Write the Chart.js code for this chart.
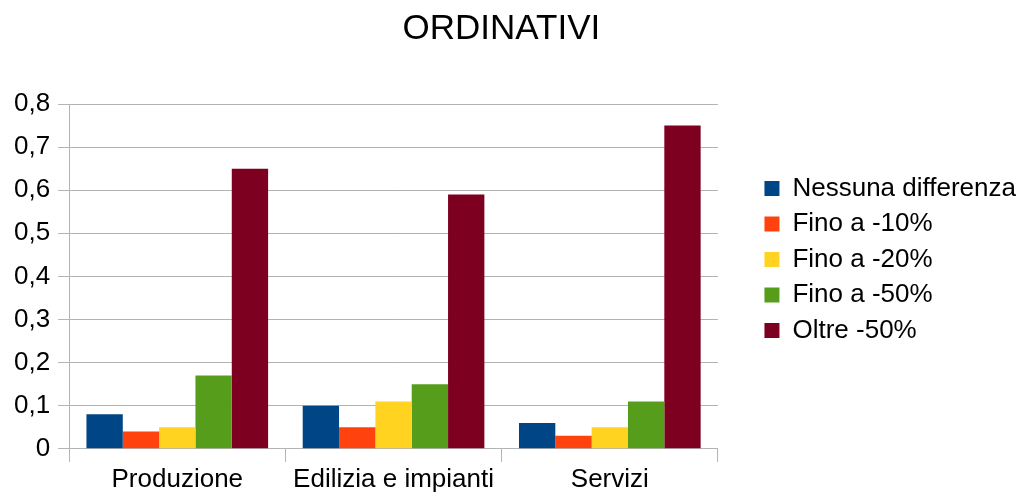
<!DOCTYPE html>
<html lang="it">
<head>
  <meta charset="UTF-8" />
  <title>Ordinativi</title>
  <script src="https://cdn.jsdelivr.net/npm/chart.js"></script>
  <style>
    html, body { margin: 0; padding: 0; background: #fff; }
    #wrap { width: 1026px; height: 492px; }
  </style>
</head>
<body>
  <div id="wrap"><canvas id="chart" width="1026" height="492"></canvas></div>

  <script>
// === Data ===
const categories = ["Produzione", "Edilizia e impianti", "Servizi"];
const seriesNames = ["Nessuna differenza", "Fino a -10%", "Fino a -20%", "Fino a -50%", "Oltre -50%"];
const nessunaDifferenza = [0.08, 0.10, 0.06];
const finoA10 = [0.04, 0.05, 0.03];
const finoA20 = [0.05, 0.11, 0.05];
const finoA50 = [0.17, 0.15, 0.11];
const oltre50 = [0.65, 0.59, 0.75];
const yTickLabels = ["0", "0,1", "0,2", "0,3", "0,4", "0,5", "0,6", "0,7", "0,8"];

const colors = ["#004586", "#ff420e", "#ffd320", "#579d1c", "#7e0021"];
const seriesValues = [nessunaDifferenza, finoA10, finoA20, finoA50, oltre50];

Chart.defaults.font.family = "'Liberation Sans', Arial, sans-serif";
Chart.defaults.color = "#000";

new Chart(document.getElementById("chart").getContext("2d"), {
  type: "bar",
  data: {
    labels: categories,
    datasets: seriesNames.map((name, i) => ({
      label: name,
      data: seriesValues[i],
      backgroundColor: colors[i],
      borderWidth: 0,
      categoryPercentage: 0.84,
      barPercentage: 1
    }))
  },
  options: {
    responsive: false,
    animation: false,
    layout: { padding: { left: 6, right: 0, top: 0, bottom: -5 } },
    plugins: {
      title: {
        display: true,
        // trailing spaces nudge the centred title a little to the left
        text: "ORDINATIVI   ",
        font: { size: 35, weight: "normal" },
        color: "#000",
        padding: { top: 8, bottom: 54 }
      },
      legend: {
        position: "right",
        maxWidth: 320,
        // blank title only pushes the items down a bit
        title: { display: true, text: " ", font: { size: 10 }, padding: 5 },
        labels: {
          boxWidth: 15,
          boxHeight: 15,
          padding: 9.5,
          font: { size: 26 },
          color: "#000"
        }
      },
      tooltip: { enabled: false }
    },
    scales: {
      x: {
        grid: { drawOnChartArea: false, color: "#b3b3b3", tickLength: 13 },
        border: { color: "#b3b3b3" },
        ticks: { font: { size: 26 }, color: "#000", padding: 2 }
      },
      y: {
        min: 0,
        max: 0.8,
        ticks: {
          stepSize: 0.1,
          font: { size: 26 },
          color: "#000",
          padding: 8,
          callback: (v, i) => yTickLabels[i]
        },
        grid: { color: "#b3b3b3", tickLength: 11 },
        border: { color: "#b3b3b3" }
      },
      // empty spacer between plot and legend
      gap: {
        type: "linear",
        position: "right",
        display: true,
        grid: { display: false },
        border: { display: false },
        ticks: { display: false },
        afterFit: (scale) => { scale.width = 37; }
      }
    }
  }
});
  </script>
</body>
</html>
